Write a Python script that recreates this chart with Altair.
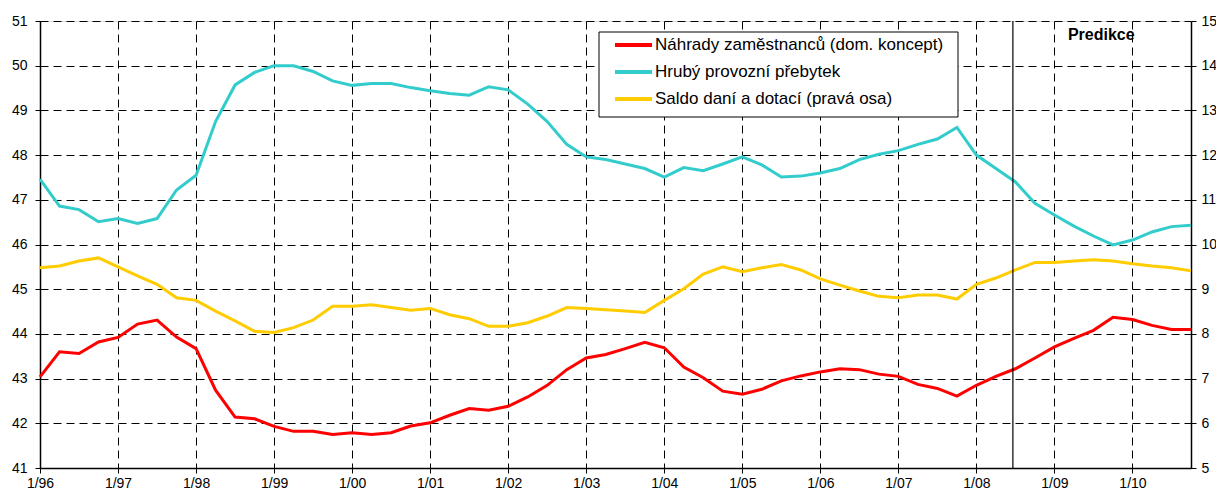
import altair as alt
import pandas as pd

year_labels = ["1/96", "1/97", "1/98", "1/99", "1/00", "1/01", "1/02", "1/03",
               "1/04", "1/05", "1/06", "1/07", "1/08", "1/09", "1/10"]

nahrady = [43.04, 43.60, 43.56, 43.82, 43.92, 44.22, 44.31, 43.93, 43.67, 42.74,
           42.14, 42.10, 41.93, 41.82, 41.82, 41.75, 41.79, 41.75, 41.79, 41.94,
           42.01, 42.18, 42.33, 42.29, 42.38, 42.59, 42.85, 43.20, 43.46, 43.54,
           43.67, 43.81, 43.69, 43.26, 43.02, 42.72, 42.65, 42.76, 42.95, 43.06,
           43.15, 43.22, 43.20, 43.10, 43.05, 42.87, 42.78, 42.61, 42.85, 43.05,
           43.22, 43.46, 43.71, 43.90, 44.08, 44.37, 44.32, 44.19, 44.10, 44.10]

hruby = [47.46, 46.86, 46.78, 46.51, 46.58, 46.47, 46.58, 47.22, 47.55, 48.75,
         49.57, 49.85, 50.00, 50.00, 49.87, 49.66, 49.56, 49.60, 49.60, 49.51,
         49.44, 49.38, 49.34, 49.53, 49.46, 49.14, 48.75, 48.24, 47.96, 47.90,
         47.80, 47.70, 47.51, 47.72, 47.65, 47.80, 47.96, 47.78, 47.51, 47.53,
         47.60, 47.70, 47.90, 48.02, 48.10, 48.24, 48.36, 48.62, 48.00, 47.70,
         47.40, 46.92, 46.66, 46.41, 46.19, 45.99, 46.10, 46.28, 46.40, 46.43]

saldo = [9.48, 9.52, 9.63, 9.70, 9.50, 9.30, 9.11, 8.81, 8.75, 8.51,
         8.29, 8.06, 8.03, 8.14, 8.31, 8.62, 8.62, 8.65, 8.59, 8.53,
         8.57, 8.43, 8.34, 8.17, 8.17, 8.25, 8.40, 8.59, 8.57, 8.54,
         8.51, 8.48, 8.75, 9.01, 9.34, 9.50, 9.39, 9.48, 9.55, 9.43,
         9.23, 9.09, 8.96, 8.84, 8.81, 8.87, 8.87, 8.78, 9.11, 9.25,
         9.43, 9.60, 9.60, 9.63, 9.66, 9.63, 9.57, 9.52, 9.48, 9.41]

series_names = ["Náhrady zaměstnanců (dom. koncept)",
                "Hrubý provozní přebytek",
                "Saldo daní a dotací (pravá osa)"]
series_colors = ["#FF0000", "#33CCCC", "#FFCC00"]

forecast_start = 49.87   # quarter index where the forecast begins
forecast_label = "Predikce"
forecast_label_q = 54.4

FONT = "Liberation Sans"
W, H = 1151, 447

quarters = list(range(len(nahrady)))
df_left = pd.DataFrame({
    "q": quarters * 2,
    "value": nahrady + hruby,
    "series": [series_names[0]] * len(nahrady) + [series_names[1]] * len(hruby),
})
df_right = pd.DataFrame({"q": quarters, "value": saldo, "series": series_names[2]})

label_array = "[" + ",".join("'%s'" % s for s in year_labels) + "]"
x_enc = alt.X(
    "q:Q",
    scale=alt.Scale(domain=[0, len(nahrady) - 1], nice=False, zero=False),
    axis=alt.Axis(
        values=[4 * i for i in range(len(year_labels))],
        labelExpr=label_array + "[datum.value / 4]",
        title=None, grid=True, gridDash=[8, 5], gridColor="#000000", gridWidth=1,
        domainColor="#000000", domainWidth=1.5, tickColor="#000000", tickSize=5,
        labelFontSize=14, labelFont=FONT, labelColor="#000000", labelPadding=3,
        labelFlush=False,
    ),
)

left = alt.Chart(df_left).mark_line(strokeWidth=3).encode(
    x=x_enc,
    y=alt.Y("value:Q",
            scale=alt.Scale(domain=[41, 51], nice=False, zero=False),
            axis=alt.Axis(orient="left", values=list(range(41, 52)), title=None,
                          grid=True, gridDash=[8, 5], gridColor="#000000", gridWidth=1,
                          domainColor="#000000", domainWidth=1.5, tickColor="#000000",
                          tickSize=5, labelFontSize=14, labelFont=FONT,
                          labelColor="#000000", labelPadding=8)),
    color=alt.Color("series:N", scale=alt.Scale(domain=series_names[:2],
                                                range=series_colors[:2]), legend=None),
    order=alt.Order("series:N"),
)

right = alt.Chart(df_right).mark_line(strokeWidth=3, color=series_colors[2]).encode(
    x=alt.X("q:Q"),
    y=alt.Y("value:Q",
            scale=alt.Scale(domain=[5, 15], nice=False, zero=False),
            axis=alt.Axis(orient="right", values=list(range(5, 16)), title=None,
                          grid=False, domainColor="#000000", domainWidth=1.5,
                          tickColor="#000000", tickSize=5, labelFontSize=14,
                          labelFont=FONT, labelColor="#000000", labelPadding=5)),
)

rule = alt.Chart(pd.DataFrame({"q": [forecast_start]})).mark_rule(
    color="#000000", strokeWidth=1.2).encode(x="q:Q")

pred = alt.Chart(pd.DataFrame({"q": [forecast_label_q], "t": [forecast_label]})).mark_text(
    font=FONT, fontSize=16, fontWeight="bold", color="#000000", baseline="middle"
).encode(x="q:Q", y=alt.value(14), text="t:N")

# manual legend box
leg_box = alt.Chart(pd.DataFrame({"a": [0]})).mark_rect(
    fill="white", stroke="#000000", strokeWidth=1).encode(
    x=alt.value(559), x2=alt.value(918), y=alt.value(11), y2=alt.value(96))

legend_layers = [leg_box]
for k, (name, col) in enumerate(zip(series_names, series_colors)):
    yy = 24 + 27 * k
    d = pd.DataFrame({"t": [name]})
    legend_layers.append(
        alt.Chart(d).mark_rule(color=col, strokeWidth=4).encode(
            x=alt.value(575), x2=alt.value(612), y=alt.value(yy)))
    legend_layers.append(
        alt.Chart(d).mark_text(font=FONT, fontSize=17, align="left", baseline="middle",
                               color="#000000").encode(
            x=alt.value(615), y=alt.value(yy), text="t:N"))

chart = alt.layer(left, right, rule, pred, *legend_layers).resolve_scale(
    y="independent"
).properties(
    width=W, height=H,
    autosize=alt.AutoSizeParams(type="none"),
    padding={"left": 32, "top": 13, "right": 25, "bottom": 22},
).configure_view(stroke=None).configure(background="white")

chart.save("out.html", embed_options={"renderer": "svg", "actions": False})
